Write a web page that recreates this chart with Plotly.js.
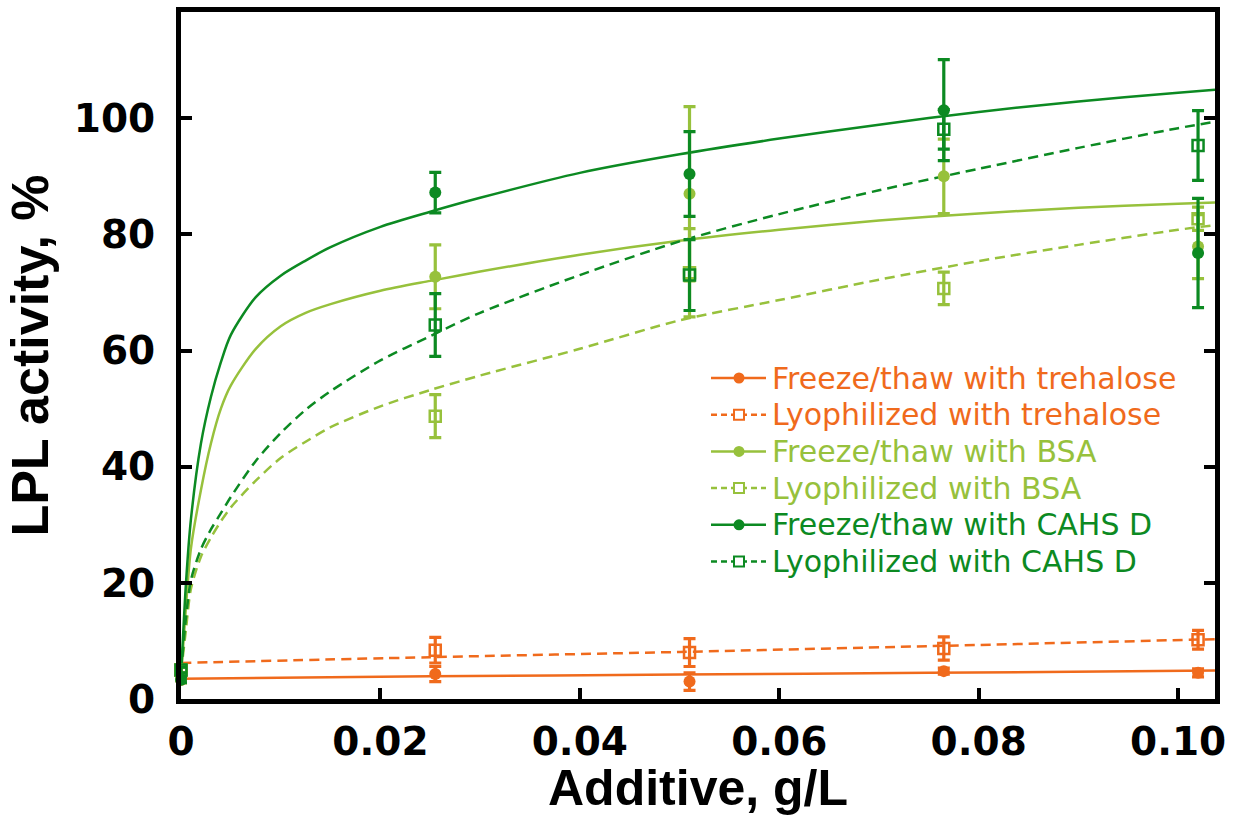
<!DOCTYPE html>
<html>
<head>
<meta charset="utf-8">
<script src="https://cdn.plot.ly/plotly-3.0.1.min.js"></script>
<style>html,body{margin:0;padding:0;background:#fff;}#chart{width:1247px;height:816px;}</style>
</head>
<body>
<div id="chart"></div>
<script>
// ---- measured data ----
const pointX = [0, 0.0255, 0.051, 0.0765, 0.102];

const treFT    = [3.3, 4.3, 3.0, 4.8, 4.5];
const treFTErr = [0.5, 1.3, 1.5, 0.5, 0.7];
const treLyo    = [5.0, 8.4, 8.0, 8.7, 10.2];
const treLyoErr = [0.5, 2.2, 2.4, 2.0, 1.6];
const bsaFT    = [3.3, 72.7, 87.0, 90.0, 77.9];
const bsaFTErr = [0.5, 5.5, 15.0, 6.4, 5.5];
const bsaLyo    = [5.0, 48.7, 73.4, 70.7, 82.7];
const bsaLyoErr = [0.5, 3.7, 7.6, 2.8, 2.0];
const cahsFT    = [3.3, 87.2, 90.4, 101.4, 76.8];
const cahsFTErr = [0.5, 3.5, 7.3, 8.7, 9.4];
const cahsLyo    = [5.0, 64.4, 73.0, 98.1, 95.3];
const cahsLyoErr = [0.5, 5.4, 6.1, 3.4, 6.0];

// fitted curves
const treFitX = [0, 0.025, 0.05, 0.075, 0.1037];
const treFTFit  = [3.5, 3.9, 4.2, 4.5, 4.9];
const treLyoFit = [6.2, 7.2, 8.1, 9.1, 10.3];

const fitX = [0, 0.0005, 0.001, 0.002, 0.003, 0.004, 0.005, 0.0075, 0.01, 0.0125, 0.015, 0.02, 0.025, 0.03, 0.04, 0.05, 0.06, 0.07, 0.08, 0.09, 0.1, 0.1037];
const bsaFTFit   = [3.8, 16, 26, 36, 44, 50, 54, 60.3, 64.2, 66.5, 68.0, 70.3, 72.0, 73.6, 76.5, 78.9, 80.8, 82.4, 83.6, 84.6, 85.3, 85.5];
const bsaLyoFit  = [4.5, 12, 19, 24.5, 27.8, 30.6, 33, 37.6, 41.5, 44.3, 46.8, 50.4, 53.2, 55.7, 60.3, 65.2, 68.7, 72.2, 75.4, 78.2, 80.8, 81.6];
const cahsFTFit  = [3.8, 20, 31, 44, 52, 58, 62.7, 69.2, 72.9, 75.5, 77.8, 81.3, 83.9, 86.3, 90.6, 93.8, 96.5, 98.9, 101.1, 102.9, 104.4, 104.9];
const cahsLyoFit = [4.5, 14, 20.5, 25.8, 29.2, 32, 34.8, 41, 45.8, 49.8, 53.0, 58.3, 62.5, 66.5, 73, 78.8, 83.5, 87.6, 91.3, 94.9, 98.3, 99.4];

const xTickVals = [0, 0.02, 0.04, 0.06, 0.08, 0.10];
const xTickText = ['0', '0.02', '0.04', '0.06', '0.08', '0.10'];
const yTickVals = [0, 20, 40, 60, 80, 100];
const yTickText = ['0', '20', '40', '60', '80', '100'];

const seriesNames = ['Freeze/thaw with trehalose', 'Lyophilized with trehalose',
  'Freeze/thaw with BSA', 'Lyophilized with BSA',
  'Freeze/thaw with CAHS D', 'Lyophilized with CAHS D'];

// ---- styles ----
const ORANGE = '#f06a1c', LIGHT = '#97c13c', DARK = '#0c8a22';
const DASH = '10px,6px';

const series = [
  {y: treFT, e: treFTErr, fx: treFitX, fy: treFTFit, c: ORANGE, lyo: false},
  {y: treLyo, e: treLyoErr, fx: treFitX, fy: treLyoFit, c: ORANGE, lyo: true},
  {y: bsaFT, e: bsaFTErr, fx: fitX, fy: bsaFTFit, c: LIGHT, lyo: false},
  {y: bsaLyo, e: bsaLyoErr, fx: fitX, fy: bsaLyoFit, c: LIGHT, lyo: true},
  {y: cahsFT, e: cahsFTErr, fx: fitX, fy: cahsFTFit, c: DARK, lyo: false},
  {y: cahsLyo, e: cahsLyoErr, fx: fitX, fy: cahsLyoFit, c: DARK, lyo: true}
];

const traces = [];
series.forEach((s, i) => {
  traces.push({
    x: s.fx, y: s.fy, type: 'scatter', mode: 'lines', showlegend: false,
    name: seriesNames[i] + ' fit', hoverinfo: 'skip',
    line: {color: s.c, width: 2.5, dash: s.lyo ? DASH : 'solid', shape: 'spline', smoothing: 0.8}
  });
});
series.forEach((s, i) => {
  traces.push({
    x: pointX, y: s.y, type: 'scatter', mode: 'markers', name: seriesNames[i],
    showlegend: false, cliponaxis: false,
    marker: s.lyo
      ? {symbol: 'square-open', size: 11, color: s.c, line: {color: s.c, width: 2.5}}
      : {symbol: 'circle', size: 12, color: s.c},
    error_y: {type: 'data', array: s.e, visible: true, color: s.c, thickness: 3.2, width: 6}
  });
});

// ---- manual legend (compact spacing like the reference) ----
const PL = 181, PR = 1215, PT = 12, PB = 699;
const W = PR - PL, H = PB - PT;
const px = v => (v - PL) / W;
const py = v => (PB - v) / H;
const shapes = [], annotations = [];
series.forEach((s, i) => {
  const yc = py(378 + 36.7 * i);
  shapes.push({type: 'line', xref: 'paper', yref: 'paper', x0: px(711), x1: px(766), y0: yc, y1: yc,
    line: {color: s.c, width: 2.5, dash: s.lyo ? '6px,4px' : 'solid'}});
  if (s.lyo) {
    shapes.push({type: 'rect', xref: 'paper', yref: 'paper', xsizemode: 'pixel', ysizemode: 'pixel',
      xanchor: px(739), yanchor: yc, x0: -5, x1: 5, y0: -5, y1: 5,
      fillcolor: '#ffffff', line: {color: s.c, width: 2}});
  } else {
    shapes.push({type: 'circle', xref: 'paper', yref: 'paper', xsizemode: 'pixel', ysizemode: 'pixel',
      xanchor: px(739), yanchor: yc, x0: -5.5, x1: 5.5, y0: -5.5, y1: 5.5,
      fillcolor: s.c, line: {color: s.c, width: 0}});
  }
  annotations.push({xref: 'paper', yref: 'paper', x: px(770), y: yc, xanchor: 'left', yanchor: 'middle',
    text: seriesNames[i], showarrow: false,
    font: {family: 'DejaVu Sans', size: 30, color: s.c}});
});

const tickFont = {family: 'DejaVu Sans', size: 39, color: '#000', weight: 'bold'};
const layout = {
  width: 1247, height: 816,
  margin: {l: PL, r: 1247 - PR, t: PT, b: 816 - PB, pad: 0},
  paper_bgcolor: '#fff', plot_bgcolor: '#fff',
  showlegend: false,
  xaxis: {
    range: [0, 0.1037], tickvals: xTickVals, ticktext: xTickText,
    showgrid: false, zeroline: false, showline: true, linecolor: '#000', linewidth: 5, mirror: true,
    ticks: 'inside', ticklen: 11, tickwidth: 4, tickcolor: '#000',
    tickfont: tickFont, ticklabelstandoff: 4,
    title: {text: '<b>Additive, g/L</b>', font: {family: 'Liberation Sans, Arial', size: 50, color: '#000'}, standoff: 6}
  },
  yaxis: {
    range: [0, 118.3], tickvals: yTickVals, ticktext: yTickText,
    showgrid: false, zeroline: false, showline: true, linecolor: '#000', linewidth: 5, mirror: 'ticks',
    ticks: 'inside', ticklen: 11, tickwidth: 4, tickcolor: '#000',
    tickfont: tickFont, ticklabelstandoff: 13,
    title: {text: '<b>LPL activity, %</b>', font: {family: 'Liberation Sans, Arial', size: 52, color: '#000'}, standoff: 10}
  },
  shapes: shapes,
  annotations: annotations
};

Plotly.newPlot('chart', traces, layout, {staticPlot: true, displayModeBar: false});
</script>
</body>
</html>
